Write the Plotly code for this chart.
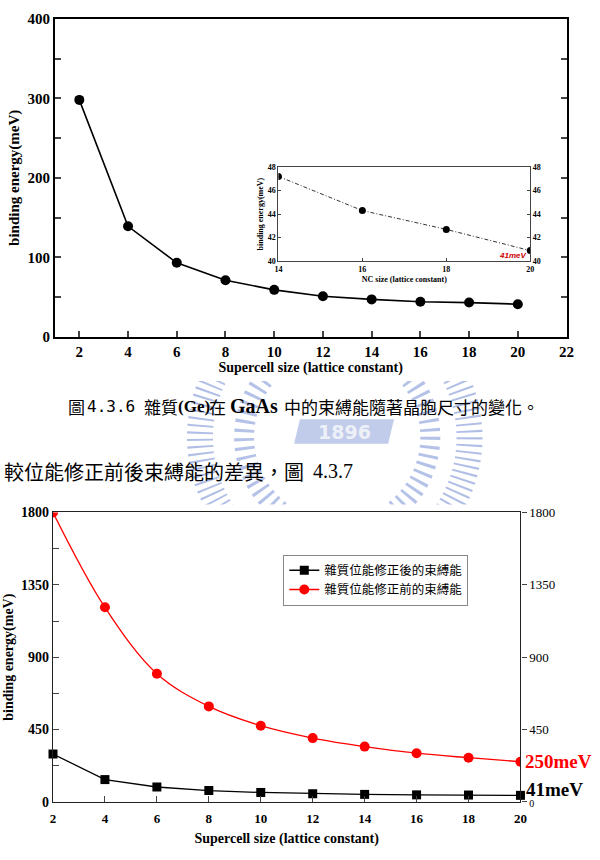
import plotly.graph_objects as go

# ---- data ----
sizes = [2, 4, 6, 8, 10, 12, 14, 16, 18, 20]
be_corrected = [298, 139, 93, 71, 59, 51, 47, 44, 43, 41]          # 雜質位能修正後
be_uncorrected = [1800, 1210, 797, 594, 474, 397, 344, 303, 275, 250]  # 雜質位能修正前
inset_sizes = [14, 16, 18, 20]
inset_be = [47.2, 44.3, 42.7, 40.9]

top_yticks = [0, 50, 100, 150, 200, 250, 300, 350, 400]
top_yticktext = ["0", "", "100", "", "200", "", "300", "", "400"]
top_xticks = [2, 4, 6, 8, 10, 12, 14, 16, 18, 20, 22]
inset_yticks = [40, 42, 44, 46, 48]
bot_yticks = [0, 225, 450, 675, 900, 1125, 1350, 1575, 1800]
bot_yticktext = ["0", "", "450", "", "900", "", "1350", "", "1800"]
bot_ryticks = [0, 450, 900, 1350, 1800]
bot_ryticktext = ["<span style=\"font-size:10px\">0</span>", "450", "900", "1350", "1800"]
bot_xticks = [2, 4, 6, 8, 10, 12, 14, 16, 18, 20]

legend_names = ["雜質位能修正後的束縛能", "雜質位能修正前的束縛能"]

W, H = 600, 860
def px(x): return x / W
def py(y): return 1 - y / H

SERIF = "Liberation Serif"
CJK = "Noto Sans CJK TC"

fig = go.Figure()

# top main chart
fig.add_trace(go.Scatter(x=sizes, y=be_corrected, xaxis="x", yaxis="y",
                         mode="lines+markers", line=dict(color="black", width=1.6),
                         marker=dict(color="black", size=10, symbol="circle"),
                         showlegend=False, cliponaxis=False))
# inset
fig.add_trace(go.Scatter(x=inset_sizes, y=inset_be, xaxis="x3", yaxis="y3",
                         mode="lines+markers", line=dict(color="#333", width=1, dash="4px,2px,1px,2px"),
                         marker=dict(color="black", size=7), showlegend=False, cliponaxis=True))
fig.add_trace(go.Scatter(x=inset_sizes, y=inset_be, xaxis="x3", yaxis="y4",
                         mode="markers", marker=dict(opacity=0), showlegend=False, hoverinfo="skip"))
# bottom chart
fig.add_trace(go.Scatter(x=sizes, y=be_corrected, xaxis="x2", yaxis="y2",
                         mode="lines+markers", name=legend_names[0],
                         line=dict(color="black", width=1.3),
                         marker=dict(color="black", size=9, symbol="square"), cliponaxis=False))
fig.add_trace(go.Scatter(x=sizes, y=be_uncorrected, xaxis="x2", yaxis="y2",
                         mode="lines+markers", name=legend_names[1],
                         line=dict(color="#ff0000", width=1.3, shape="spline"),
                         marker=dict(color="#ff0000", size=10, symbol="circle"),
                         cliponaxis=True))
fig.add_trace(go.Scatter(x=sizes, y=be_uncorrected, xaxis="x2", yaxis="y5",
                         mode="markers", marker=dict(opacity=0), showlegend=False, hoverinfo="skip"))

bold_tick = dict(family=SERIF, size=15, color="black", weight="bold")

fig.update_layout(
    width=W, height=H, margin=dict(l=0, r=0, t=0, b=0),
    paper_bgcolor="white", plot_bgcolor="rgba(0,0,0,0)",
    showlegend=True,
    legend=dict(x=px(285), y=py(557), xanchor="left", yanchor="top",
                bordercolor="#888", borderwidth=1, bgcolor="white",
                font=dict(family=CJK, size=12.5, color="black"),
                itemwidth=30, tracegroupgap=0),
    xaxis=dict(domain=[px(52), px(574)], anchor="y", range=[1, 22],
               tickvals=top_xticks, ticks="inside", ticklen=6, tickwidth=1.5,
               showline=True, linecolor="black", linewidth=2, mirror=True,
               showgrid=False, zeroline=False, tickfont=bold_tick,
               title=dict(text="Supercell size (lattice constant)", standoff=3,
                          font=dict(family=SERIF, size=14, color="black", weight="bold"))),
    yaxis=dict(domain=[py(335), py(11)], anchor="x", range=[0, 400],
               tickvals=top_yticks, ticktext=top_yticktext, ticks="inside", ticklen=6, tickwidth=1.5,
               showline=True, linecolor="black", linewidth=2, mirror="ticks",
               showgrid=False, zeroline=False, tickfont=bold_tick,
               title=dict(text="binding energy(meV)", standoff=4,
                          font=dict(family=SERIF, size=15, color="black", weight="bold"))),
    xaxis3=dict(domain=[px(280), px(537)], anchor="y3", range=[14, 20],
                tickvals=[14, 16, 18, 20], ticks="inside", ticklen=3,
                showline=True, linecolor="#444", linewidth=1, mirror=True,
                showgrid=False, zeroline=False,
                tickfont=dict(family=SERIF, size=8, color="black", weight="bold"),
                title=dict(text="NC size (lattice constant)", standoff=3,
                           font=dict(family=SERIF, size=8, color="black", weight="bold"))),
    yaxis3=dict(domain=[py(258), py(162)], anchor="x3", range=[40, 48],
                tickvals=inset_yticks, ticks="inside", ticklen=3,
                showline=True, linecolor="#444", linewidth=1,
                showgrid=False, zeroline=False,
                tickfont=dict(family=SERIF, size=8, color="black", weight="bold"),
                title=dict(text="binding energy(meV)", standoff=2,
                           font=dict(family=SERIF, size=8, color="black", weight="bold"))),
    yaxis4=dict(overlaying="y3", anchor="x3", side="right", range=[40, 48],
                tickvals=inset_yticks, ticks="inside", ticklen=3,
                showline=True, linecolor="#444", linewidth=1,
                showgrid=False, zeroline=False,
                tickfont=dict(family=SERIF, size=8, color="black", weight="bold")),
    xaxis2=dict(domain=[px(50), px(527)], anchor="y2", range=[2, 20],
                tickvals=bot_xticks, ticks="inside", ticklen=6, ticklabelstandoff=4,
                showline=True, linecolor="#222", linewidth=1.2, mirror=True,
                showgrid=False, zeroline=False,
                tickfont=dict(family=SERIF, size=13, color="black", weight="bold"),
                title=dict(text="Supercell size (lattice constant)", standoff=8,
                           font=dict(family=SERIF, size=14, color="black", weight="bold"))),
    yaxis2=dict(domain=[py(809), py(514)], anchor="x2", range=[0, 1800],
                tickvals=bot_yticks, ticktext=bot_yticktext, ticks="inside", ticklen=6,
                showline=True, linecolor="#222", linewidth=1.2,
                showgrid=False, zeroline=False,
                tickfont=dict(family=SERIF, size=14, color="black", weight="bold"),
                title=dict(text="binding energy(meV)", standoff=4,
                           font=dict(family=SERIF, size=14, color="black", weight="bold"))),
    yaxis5=dict(overlaying="y2", anchor="x2", side="right", range=[0, 1800],
                tickvals=bot_ryticks, ticktext=bot_ryticktext, ticks="outside", ticklen=5,
                showline=True, linecolor="#222", linewidth=1.2,
                showgrid=False, zeroline=False,
                tickfont=dict(family=SERIF, size=13, color="black")),
)

# watermark (faint NCTU emblem, only visible between the two figures)
fig.add_shape(type="circle", xref="paper", yref="paper",
              x0=px(200), x1=px(475), y0=py(575), y1=py(300),
              line=dict(color="rgba(150,168,222,0.75)", width=26, dash="2px,5px"),
              layer="below")
fig.add_shape(type="circle", xref="paper", yref="paper",
              x0=px(245), x1=px(435), y0=py(532), y1=py(342),
              line=dict(color="rgba(150,168,222,0.7)", width=20, dash="3px,6px"),
              layer="below")
fig.add_shape(type="path", xref="paper", yref="paper",
              path=f"M {px(296)},{py(444)} L {px(392)},{py(444)} L {px(398)},{py(419)} L {px(302)},{py(419)} Z",
              fillcolor="rgba(160,176,222,0.65)", line=dict(width=0), layer="below")
fig.add_shape(type="rect", xref="paper", yref="paper",
              x0=0, x1=1, y0=py(380), y1=1, fillcolor="white", line=dict(width=0), layer="below")
fig.add_shape(type="rect", xref="paper", yref="paper",
              x0=0, x1=1, y0=0, y1=py(506), fillcolor="white", line=dict(width=0), layer="below")

ann = [
    (347, 432, "center", "<b>1896</b>", dict(family="DejaVu Sans", size=19, color="rgb(238,240,248)")),
    (63, 406, "left", "圖", dict(family=CJK, size=17, color="black")),
    (83, 406, "left", "4.3.6", dict(family="DejaVu Sans Mono", size=16, color="black")),
    (141, 406, "left", "雜質", dict(family=CJK, size=17, color="black")),
    (175, 406, "left", "<b>(Ge)</b>", dict(family=SERIF, size=17, color="black")),
    (207, 406, "left", "在", dict(family=CJK, size=17, color="black")),
    (229, 406, "left", "<b>GaAs</b>", dict(family=SERIF, size=20, color="black")),
    (284, 406, "left", "中的束縛能隨著晶胞尺寸的變化。", dict(family=CJK, size=17, color="black")),
    (-2, 472, "left", "較位能修正前後束縛能的差異，圖", dict(family=CJK, size=20, color="black")),
    (313, 472, "left", "4.3.7", dict(family=SERIF, size=20, color="black")),
    (535, 252, "right", "<b><i>41meV</i></b>", dict(family="Liberation Sans", size=8, color="#d00000")),
    (530, 768, "left", "<b>250meV</b>", dict(family=SERIF, size=19, color="#ff0000")),
    (531, 796, "left", "<b>41meV</b>", dict(family=SERIF, size=19, color="black")),
]
fig.update_layout(annotations=[
    dict(x=px(x), y=py(y), xref="paper", yref="paper", xanchor=xa, yanchor="middle",
         text=t, font=f, showarrow=False)
    for x, y, xa, t, f in ann
])

fig.write_html("out.html")
